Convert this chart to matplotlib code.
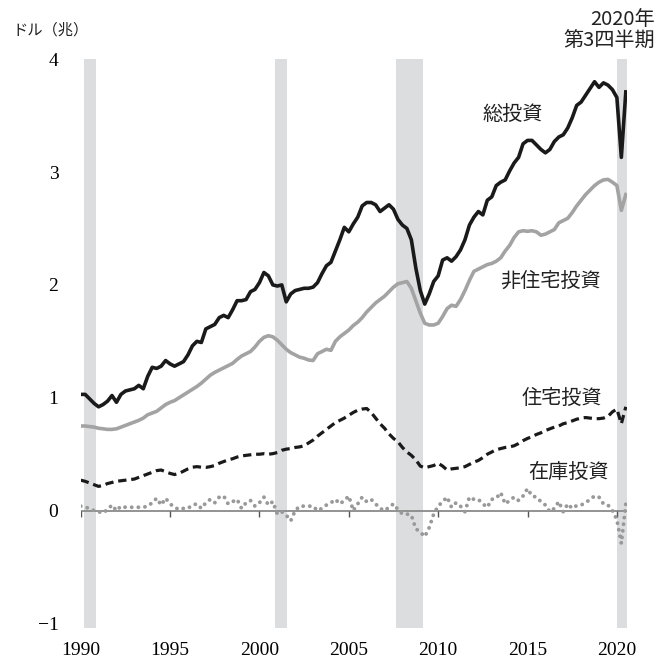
import numpy as np
import matplotlib.pyplot as plt

plt.rcParams['font.family'] = ['Noto Sans CJK JP', 'DejaVu Sans']

# 四半期データ 1990Q1〜2020Q3（兆ドル）
start_year = 1990
gross = [
    1.03, 1.03, 0.99, 0.95,   # 1990
    0.92, 0.94, 0.97, 1.02,   # 1991
    0.96, 1.03, 1.06, 1.07,   # 1992
    1.08, 1.11, 1.08, 1.19,   # 1993
    1.27, 1.26, 1.28, 1.33,   # 1994
    1.30, 1.28, 1.30, 1.32,   # 1995
    1.38, 1.46, 1.50, 1.49,   # 1996
    1.61, 1.63, 1.65, 1.71,   # 1997
    1.73, 1.71, 1.78, 1.86,   # 1998
    1.86, 1.87, 1.94, 1.96,   # 1999
    2.02, 2.11, 2.08, 2.00,   # 2000
    1.99, 2.00, 1.85, 1.92,   # 2001
    1.95, 1.96, 1.97, 1.97,   # 2002
    1.98, 2.02, 2.10, 2.17,   # 2003
    2.20, 2.30, 2.40, 2.51,   # 2004
    2.47, 2.54, 2.60, 2.70,   # 2005
    2.73, 2.73, 2.71, 2.65,   # 2006
    2.68, 2.71, 2.67, 2.58,   # 2007
    2.53, 2.50, 2.40, 2.15,   # 2008
    1.95, 1.83, 1.92, 2.03,   # 2009
    2.08, 2.22, 2.24, 2.21,   # 2010
    2.25, 2.31, 2.40, 2.53,   # 2011
    2.60, 2.65, 2.62, 2.75,   # 2012
    2.78, 2.88, 2.91, 2.93,   # 2013
    3.01, 3.08, 3.13, 3.25,   # 2014
    3.28, 3.28, 3.24, 3.20,   # 2015
    3.17, 3.20, 3.27, 3.31,   # 2016
    3.33, 3.39, 3.48, 3.59,   # 2017
    3.62, 3.68, 3.74, 3.80,   # 2018
    3.75, 3.79, 3.77, 3.73,   # 2019
    3.66, 3.13, 3.71,         # 2020
]
nonres = [
    0.75, 0.75, 0.745, 0.74,
    0.73, 0.725, 0.72, 0.72,
    0.725, 0.74, 0.755, 0.77,
    0.785, 0.80, 0.82, 0.85,
    0.865, 0.88, 0.91, 0.94,
    0.96, 0.975, 1.00, 1.025,
    1.05, 1.075, 1.10, 1.13,
    1.165, 1.20, 1.225, 1.245,
    1.265, 1.285, 1.305, 1.34,
    1.37, 1.39, 1.41, 1.45,
    1.50, 1.535, 1.55, 1.54,
    1.51, 1.47, 1.43, 1.40,
    1.38, 1.36, 1.35, 1.335,
    1.33, 1.39, 1.41, 1.43,
    1.42, 1.50, 1.54, 1.57,
    1.60, 1.64, 1.67, 1.71,
    1.76, 1.80, 1.84, 1.87,
    1.90, 1.94, 1.98, 2.01,
    2.02, 2.03, 1.97, 1.86,
    1.75, 1.66, 1.645, 1.645,
    1.66, 1.72, 1.79, 1.82,
    1.81, 1.87, 1.95, 2.04,
    2.12, 2.14, 2.16, 2.18,
    2.19, 2.21, 2.24, 2.30,
    2.35, 2.42, 2.47, 2.48,
    2.475, 2.48, 2.47, 2.44,
    2.45, 2.47, 2.49, 2.55,
    2.57, 2.59, 2.64, 2.70,
    2.75, 2.80, 2.84, 2.88,
    2.91, 2.93, 2.935, 2.91,
    2.88, 2.66, 2.80,
]
residential = [
    0.27, 0.26, 0.245, 0.23,
    0.215, 0.225, 0.24, 0.25,
    0.26, 0.265, 0.27, 0.275,
    0.28, 0.295, 0.31, 0.325,
    0.34, 0.355, 0.36, 0.345,
    0.33, 0.32, 0.33, 0.35,
    0.37, 0.385, 0.39, 0.385,
    0.383, 0.39, 0.40, 0.42,
    0.435, 0.45, 0.46, 0.475,
    0.485, 0.49, 0.495, 0.50,
    0.50, 0.505, 0.50, 0.505,
    0.515, 0.535, 0.545, 0.55,
    0.56, 0.565, 0.575, 0.60,
    0.625, 0.66, 0.69, 0.72,
    0.75, 0.78, 0.80, 0.82,
    0.845, 0.87, 0.89, 0.90,
    0.905, 0.87, 0.82, 0.77,
    0.73, 0.68, 0.64, 0.61,
    0.56, 0.52, 0.49, 0.45,
    0.395, 0.38, 0.39, 0.40,
    0.42, 0.395, 0.36, 0.37,
    0.375, 0.38, 0.39, 0.41,
    0.43, 0.445, 0.47, 0.50,
    0.52, 0.54, 0.55, 0.56,
    0.565, 0.575, 0.595, 0.62,
    0.64, 0.655, 0.675, 0.69,
    0.71, 0.725, 0.74, 0.75,
    0.77, 0.78, 0.795, 0.81,
    0.82, 0.825, 0.82, 0.815,
    0.815, 0.82, 0.835, 0.875,
    0.90, 0.77, 0.92,
]
inventory = [
    0.04, 0.03, 0.02, 0.00,
    -0.01, -0.02, 0.01, 0.05,
    0.00, 0.04, 0.03, 0.03,
    0.03, 0.03, 0.03, 0.04,
    0.07, 0.11, 0.05, 0.11,
    0.06, 0.03, 0.01, 0.02,
    0.02, 0.05, 0.06, 0.02,
    0.07, 0.10, 0.07, 0.12,
    0.13, 0.06, 0.08, 0.10,
    0.02, 0.07, 0.09, 0.04,
    0.07, 0.12, 0.05, 0.08,
    -0.03, -0.01, -0.04, -0.09,
    0.00, 0.04, 0.04, 0.04,
    0.04, 0.00, 0.02, 0.05,
    0.07, 0.10, 0.06, 0.09,
    0.13, 0.00, 0.06, 0.12,
    0.08, 0.10, 0.06, 0.02,
    0.00, 0.03, 0.06, 0.01,
    -0.03, -0.03, -0.04, -0.16,
    -0.19, -0.23, -0.15, -0.03,
    0.04, 0.08, 0.12, 0.03,
    0.07, 0.04, -0.01, 0.12,
    0.10, 0.10, 0.06, 0.03,
    0.10, 0.11, 0.16, 0.06,
    0.09, 0.12, 0.09, 0.13,
    0.195, 0.13, 0.12, 0.08,
    0.05, -0.01, 0.02, 0.08,
    -0.01, 0.06, 0.02, 0.045,
    0.05, 0.07, 0.10, 0.13,
    0.12, 0.06, 0.05, 0.00,
    -0.08, -0.29, 0.06,
]

# 景気後退期（シャドー）
recessions = [(1990.18, 1990.86), (2000.87, 2001.53), (2007.64, 2009.14), (2020.03, 2020.55)]

x_ticks = [1990, 1995, 2000, 2005, 2010, 2015, 2020]
y_ticks = [-1, 0, 1, 2, 3, 4]
y_labels = ['−1', '0', '1', '2', '3', '4']

t = start_year + np.arange(len(gross)) / 4

fig = plt.figure(figsize=(6.66, 6.63), dpi=100)
ax = fig.add_axes([0.1212, 0.0527, 0.8198, 0.8581])

for a, b in recessions:
    ax.axvspan(a, b, color='#dcdddf', lw=0, zorder=0)

ax.axhline(0, color='#8a8a8a', lw=1.3, zorder=1)
ax.vlines(x_ticks, -0.055, 0, color='#555555', lw=1.0, zorder=1)

ax.plot(t, nonres, color='#a3a3a3', lw=2.6, solid_joinstyle='round', zorder=3)
ax.plot(t, gross, color='#1a1a1a', lw=2.6, solid_joinstyle='round', zorder=4)
ax.plot(t, residential, color='#1a1a1a', lw=2.3, linestyle=(0, (2.6, 1.5)), zorder=4)
ax.plot(t, inventory, color='#999999', lw=2.8, linestyle=(0, (0.01, 1.7)),
        dash_capstyle='round', zorder=2)

ax.set_xlim(1990, 2020.55)
ax.set_ylim(-1.04, 4.0)
for s in ax.spines.values():
    s.set_visible(False)

ax.set_xticks(x_ticks)
ax.set_xticklabels([str(y) for y in x_ticks], family='Liberation Serif', fontsize=14)
ax.set_yticks(y_ticks)
ax.set_yticklabels(y_labels, family='Liberation Serif', fontsize=14)
ax.tick_params(axis='x', length=0, pad=10)
ax.tick_params(axis='y', length=0, pad=16)

lab = dict(fontsize=14.5, color='#222222', ha='center', va='center')
ax.text(2014.19, 3.51, '総投資', **lab)
ax.text(2016.31, 2.03, '非住宅投資', **lab)
ax.text(2016.93, 0.99, '住宅投資', **lab)
ax.text(2017.32, 0.34, '在庫投資', **lab)

fig.text(0.018, 0.955, 'ドル（兆）', fontsize=11, ha='left', va='center', color='#222222')
fig.text(0.983, 0.987, '2020年\n第3四半期', fontsize=14.5, ha='right', va='top',
         linespacing=1.05, color='#222222')

fig.savefig('out.png', dpi=100)
